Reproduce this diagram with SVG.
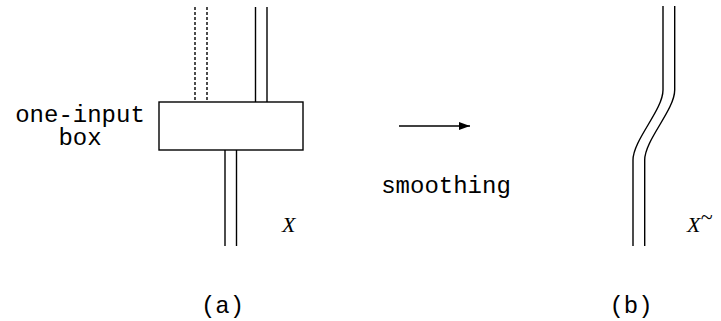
<svg xmlns="http://www.w3.org/2000/svg" width="721" height="321" viewBox="0 0 721 321">
<style>
.w{fill:none;stroke:#000;stroke-width:1.4}
.d{fill:none;stroke:#000;stroke-width:1.4;stroke-dasharray:3 2}
.m{font-family:"Liberation Mono",monospace;font-size:24px;fill:#000}
.s{font-family:"Liberation Serif",serif;font-style:italic;font-size:22px;fill:#000}
</style>
<defs>
<marker id="ah" markerWidth="12" markerHeight="8" refX="11" refY="4" orient="auto" markerUnits="userSpaceOnUse">
<path d="M0,0 L11,4 L0,8 Z" fill="#000"/>
</marker>
</defs>
<g id="connectors">
<line class="d" x1="195" y1="7" x2="195" y2="102"/>
<line class="d" x1="207" y1="7" x2="207" y2="102"/>
<line class="w" x1="255.5" y1="7" x2="255.5" y2="102"/>
<line class="w" x1="267" y1="7" x2="267" y2="102"/>
<line class="w" x1="225" y1="150" x2="225" y2="246"/>
<line class="w" x1="236.5" y1="150" x2="236.5" y2="246"/>
<path class="w" d="M663,6 L663,90 C663,110 633,140 633,160 L633,246"/>
<path class="w" d="M674.7,6 L674.7,90 C674.7,110 644.7,140 644.7,160 L644.7,246"/>
<line class="w" x1="399" y1="126" x2="470" y2="126" marker-end="url(#ah)"/>
</g>
<g id="box">
<rect class="w" x="159" y="102" width="144" height="48" fill="#fff"/>
</g>
<g id="labels">
<text class="m" x="80" y="122" text-anchor="middle">one-input</text>
<text class="m" x="80" y="145" text-anchor="middle">box</text>
<text class="m" x="446" y="193" text-anchor="middle">smoothing</text>
<text class="s" x="282" y="232">X</text>
<text class="s" x="687" y="232">X<tspan dy="-8">~</tspan></text>
<text class="m" x="222.5" y="313" text-anchor="middle">(a)</text>
<text class="m" x="631" y="313" text-anchor="middle">(b)</text>
</g>
</svg>
